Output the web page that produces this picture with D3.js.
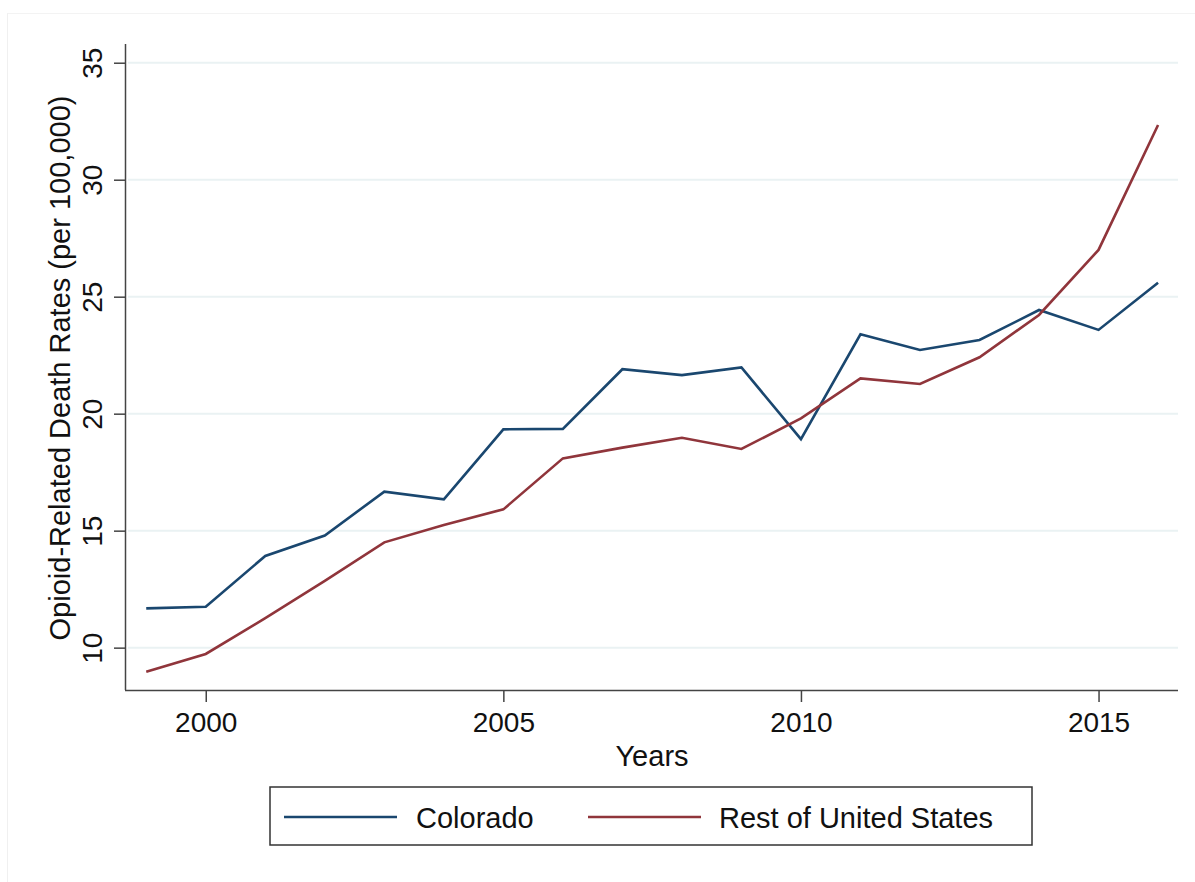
<!DOCTYPE html>
<html>
<head>
<meta charset="utf-8">
<script src="https://cdn.jsdelivr.net/npm/d3@7"></script>
<style>
  html, body { margin: 0; padding: 0; background: #fff; }
  svg { display: block; }
  text { font-family: "Liberation Sans", Arial, Helvetica, sans-serif; fill: #111; }
</style>
</head>
<body>
<svg id="chart" width="1195" height="882"></svg>
<script>
const years = [1999,2000,2001,2002,2003,2004,2005,2006,2007,2008,2009,2010,2011,2012,2013,2014,2015,2016];
const colorado = [11.68,11.75,13.92,14.79,16.67,16.34,19.33,19.35,21.90,21.65,21.98,18.91,23.39,22.72,23.15,24.43,23.58,25.60];
const restOfUS = [8.97,9.73,11.26,12.85,14.50,15.24,15.91,18.09,18.55,18.97,18.49,19.80,21.51,21.27,22.41,24.22,27.00,32.34];
const seriesNames = ["Colorado","Rest of United States"];
const seriesColors = ["#1a476f","#90353b"];
const yTicks = [10,15,20,25,30,35];
const xTicks = [2000,2005,2010,2015];
const xTitle = "Years";
const yTitle = "Opioid-Related Death Rates (per 100,000)";

(function () {
const svg = d3.select("#chart");
const pLeft = 126, pRight = 1178, pTop = 44, pBottom = 690;

// faint outer frame
svg.append("line").attr("x1",7.5).attr("x2",7.5).attr("y1",13).attr("y2",882).attr("stroke","#f0f0f0").attr("stroke-width",1);
svg.append("line").attr("x1",7.5).attr("x2",1195).attr("y1",13.5).attr("y2",13.5).attr("stroke","#f3f3f3").attr("stroke-width",1);

const x = d3.scaleLinear().domain([1998.66, 2016.335]).range([pLeft, pRight]);
const y = d3.scaleLinear().domain([8.19, 35.80]).range([pBottom, pTop]);

// gridlines
svg.append("g").selectAll("line").data(yTicks).join("line")
  .attr("x1", pLeft + 2).attr("x2", pRight)
  .attr("y1", d => y(d)).attr("y2", d => y(d))
  .attr("stroke", "#eaf2f3").attr("stroke-width", 2);

// lines
const line = d3.line().x((d,i) => x(years[i])).y(d => y(d));
[colorado, restOfUS].forEach((s, k) => {
  svg.append("path").datum(s).attr("d", line)
    .attr("fill","none").attr("stroke", seriesColors[k]).attr("stroke-width", 2.6)
    .attr("stroke-linejoin","miter");
});

// y axis
const yAxis = d3.axisLeft(y).tickValues(yTicks).tickSize(12).tickPadding(12).tickFormat(d3.format("d"));
const gy = svg.append("g").attr("transform", `translate(${pLeft},0)`).call(yAxis);
gy.select(".domain").attr("d", `M-0.5,${pTop}V${pBottom}`).attr("stroke","#444").attr("stroke-width",1.5);
gy.selectAll(".tick line").attr("stroke","#444").attr("stroke-width",1.5);
gy.selectAll(".tick text")
  .attr("font-size", 28).attr("font-family", '"Liberation Sans", Arial, sans-serif').attr("fill","#111")
  .attr("x", null).attr("dy", null).attr("y", 0)
  .attr("text-anchor","middle")
  .attr("transform","translate(-24,0) rotate(-90)");

// x axis
const xAxis = d3.axisBottom(x).tickValues(xTicks).tickSize(12).tickPadding(8).tickFormat(d3.format("d"));
const gx = svg.append("g").attr("transform", `translate(0,${pBottom})`).call(xAxis);
gx.select(".domain").attr("d", `M${pLeft - 1},0.5H${pRight}`).attr("stroke","#444").attr("stroke-width",1.5);
gx.selectAll(".tick line").attr("stroke","#444").attr("stroke-width",1.5);
gx.selectAll(".tick text")
  .attr("font-size", 28).attr("font-family", '"Liberation Sans", Arial, sans-serif').attr("fill","#111")
  .attr("y", 42).attr("dy", null);

// axis titles
svg.append("text").attr("x", (pLeft + pRight) / 2).attr("y", 766)
  .attr("text-anchor","middle").attr("font-size", 29).text(xTitle);
svg.append("text").attr("transform", "translate(70,368) rotate(-90)")
  .attr("text-anchor","middle").attr("font-size", 29).text(yTitle);

// legend
const lg = svg.append("g");
lg.append("rect").attr("x", 270).attr("y", 787).attr("width", 762).attr("height", 58)
  .attr("fill","#fff").attr("stroke","#333").attr("stroke-width",1.5);
const legendX = [[284, 397, 416], [588, 701, 719]];
seriesNames.forEach((n, k) => {
  lg.append("line").attr("x1", legendX[k][0]).attr("x2", legendX[k][1])
    .attr("y1", 817).attr("y2", 817).attr("stroke", seriesColors[k]).attr("stroke-width", 2.6);
  lg.append("text").attr("x", legendX[k][2]).attr("y", 828).attr("font-size", 29).text(n);
});
})();
</script>
</body>
</html>
